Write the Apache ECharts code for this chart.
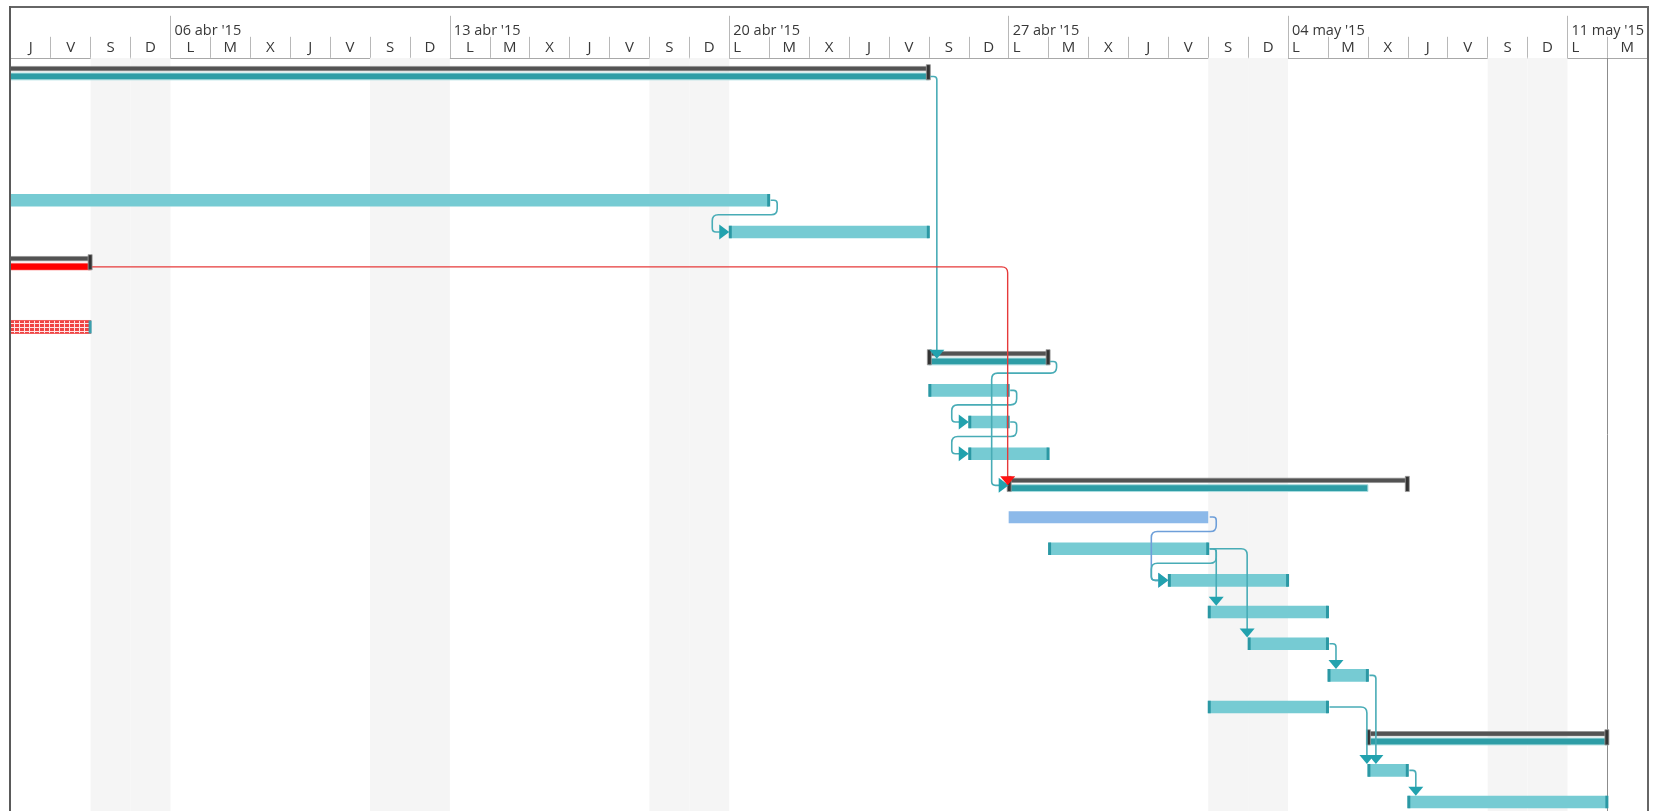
<!DOCTYPE html>
<html>
<head>
<meta charset="utf-8">
<script src="https://cdn.jsdelivr.net/npm/echarts@6/dist/echarts.min.js"></script>
<style>
html,body{margin:0;padding:0;background:#fff;}
#c{width:1655px;height:811px;}
</style>
</head>
<body>
<div id="c"></div>
<script>
// ---------- DATA (day 0 = Thursday 2 Apr 2015) ----------
const dayLetters = ['J','V','S','D','L','M','X','J','V','S','D','L','M','X','J','V','S','D','L','M','X',
                    'J','V','S','D','L','M','X','J','V','S','D','L','M','X','J','V','S','D','L','M'];
const weekLabels = ["06 abr '15", "13 abr '15", "20 abr '15", "27 abr '15", "04 may '15", "11 may '15"];
const weekStartDays = [4, 11, 18, 25, 32, 39];
const weekendDays = [2, 3, 9, 10, 16, 17, 30, 31, 37, 38];
const statusDay = 40;

const taskRows     = [0, 4, 5, 6, 8, 9, 10, 11, 12, 13, 14, 15, 16, 17, 18, 19, 20, 21, 22, 23];
const taskStart    = [-8, -8, 18, -8, -8, 23, 23, 24, 24, 25, 25, 26, 29, 30, 31, 33, 30, 34, 34, 35];
const taskEnd      = [23, 19, 23, 2, 2, 26, 25, 25, 26, 35, 30, 30, 32, 33, 33, 34, 33, 40, 35, 40];
const taskBarEnd   = [23, 19, 23, 2, 2, 26, 25, 25, 26, 34, 30, 30, 32, 33, 33, 34, 33, 40, 35, 40];
const taskKind     = ['summary','task','task','critical','pattern','summary','task','task','task','summary',
                      'blue','task','task','task','task','task','task','summary','task','task'];

const linkFrom = [0, 4, 9, 10, 11, 14, 15, 15, 15, 18, 19, 20, 22, 6];
const linkTo   = [9, 5, 13, 11, 12, 16, 16, 17, 18, 19, 22, 22, 23, 13];
const linkKind = ['teal','teal','teal','teal','teal','blue','teal','teal','teal','teal','teal','teal','teal','red'];

// ---------- LAYOUT / STYLE ----------
const W = 1655, H = 811;
const gridLeft = 10.8, gridRight = 7.7, gridTop = 57.8;
const rowPx = 31.67;
const yMax = (H - gridTop) / rowPx;
const FONT = 'Open Sans';
const leftAlignedL = [18, 25, 32, 39];

const rowToTask = {};
taskRows.forEach((r, i) => { rowToTask[r] = i; });

function makeChecker() {
  const c = document.createElement('canvas');
  c.width = 5; c.height = 4;
  const g = c.getContext('2d');
  g.fillStyle = '#f04444'; g.fillRect(0, 0, 5, 4);
  g.fillStyle = '#ffe4e4'; g.fillRect(4, 0, 1, 4); g.fillRect(0, 3, 5, 1);
  return c;
}
const checker = makeChecker();

function rect(x, y, w, h, style) { return { type: 'rect', shape: { x: x, y: y, width: w, height: h }, style: style }; }

function renderBar(params, api) {
  const i = params.dataIndex;
  const kind = taskKind[i];
  const cy = api.coord([0, taskRows[i] + 0.5])[1];
  const x0 = api.coord([taskStart[i], 0])[0];
  const x1 = api.coord([taskEnd[i], 0])[0];
  const xb = api.coord([taskBarEnd[i], 0])[0];
  const ch = [];
  if (kind === 'summary' || kind === 'critical') {
    ch.push(rect(x0, cy - 7.2, x1 - x0, 4.4, { fill: '#535353', stroke: '#8a8a8a', lineWidth: 0.6 }));
    if (kind === 'summary') {
      ch.push(rect(x0, cy - 0.6, xb - x0, 6.8, { fill: '#2e9da6', stroke: '#a9dcdf', lineWidth: 1 }));
    } else {
      ch.push(rect(x0, cy - 0.4, xb - x0, 6.8, { fill: '#ff0000', stroke: '#ff8080', lineWidth: 0.6 }));
    }
    const capStyle = { fill: '#333333', stroke: '#9a9a9a', lineWidth: 0.8 };
    if (taskStart[i] >= 0) ch.push(rect(x0 - 1.5, cy - 9, 4, 15.2, capStyle));
    ch.push(rect(x1 - 2.5, cy - 9, 4, 15.2, capStyle));
  } else if (kind === 'task') {
    ch.push(rect(x0, cy - 6.3, x1 - x0, 12.6, { fill: '#76cbd3' }));
    const capStyle = { fill: '#2b98a4' };
    if (taskStart[i] >= 0) ch.push(rect(x0 - 0.5, cy - 6.3, 3, 12.6, capStyle));
    ch.push(rect(x1 - 2, cy - 6.3, 3, 12.6, capStyle));
  } else if (kind === 'blue') {
    ch.push(rect(x0, cy - 5.8, x1 - x0, 12, { fill: '#8cb9e9' }));
  } else if (kind === 'pattern') {
    ch.push(rect(x0, cy - 6.5, x1 - x0, 13, { fill: { image: checker, repeat: 'repeat' }, stroke: '#ef4a4a', lineWidth: 0.8 }));
    ch.push(rect(x1 - 2, cy - 6.5, 3, 13, { fill: '#3aa0ae' }));
  }
  return { type: 'group', children: ch };
}

function roundedPath(pts, r) {
  let d = 'M' + pts[0][0] + ',' + pts[0][1];
  for (let k = 1; k < pts.length - 1; k++) {
    const p0 = pts[k - 1], p1 = pts[k], p2 = pts[k + 1];
    const l1 = Math.hypot(p1[0] - p0[0], p1[1] - p0[1]);
    const l2 = Math.hypot(p2[0] - p1[0], p2[1] - p1[1]);
    if (l1 < 0.01 || l2 < 0.01) { d += ' L' + p1[0] + ',' + p1[1]; continue; }
    const rr = Math.min(r, l1 / 2, l2 / 2);
    const ax = p1[0] + (p0[0] - p1[0]) / l1 * rr, ay = p1[1] + (p0[1] - p1[1]) / l1 * rr;
    const bx = p1[0] + (p2[0] - p1[0]) / l2 * rr, by = p1[1] + (p2[1] - p1[1]) / l2 * rr;
    d += ' L' + ax + ',' + ay + ' Q' + p1[0] + ',' + p1[1] + ' ' + bx + ',' + by;
  }
  const pl = pts[pts.length - 1];
  d += ' L' + pl[0] + ',' + pl[1];
  return d;
}

const linkColors = {
  teal: { line: '#48acb6', arrow: '#22a2ae', width: 1.6 },
  blue: { line: '#6e9fd9', arrow: '#6e9fd9', width: 1.6 },
  red:  { line: '#e63a3a', arrow: '#ff1111', width: 1.4 }
};

function exitOffset(kind) { return kind === 'summary' ? 2.8 : (kind === 'critical' ? 3.2 : 0); }
function topOffset(kind) { return kind === 'summary' ? 0 : -6.3; }

function renderLink(params, api) {
  const k = params.dataIndex;
  const a = rowToTask[linkFrom[k]], b = rowToTask[linkTo[k]];
  const col = linkColors[linkKind[k]];
  const pEnd = api.coord([taskEnd[a], 0])[0];
  const pCy = api.coord([0, taskRows[a] + 0.5])[1];
  const pY = pCy + exitOffset(taskKind[a]);
  const sStart = api.coord([taskStart[b], 0])[0];
  const sCy = api.coord([0, taskRows[b] + 0.5])[1];
  let pts, arrow;
  if (taskStart[b] >= taskEnd[a]) {
    const vx = taskStart[b] > taskEnd[a] ? sStart - 1 : pEnd + 8;
    const tipY = sCy + topOffset(taskKind[b]);
    const ah = 9, aw = 7.5;
    pts = [[pEnd + 1.5, pY], [vx, pY], [vx, tipY - ah + 0.5]];
    arrow = [[vx - aw, tipY - ah], [vx + aw, tipY - ah], [vx, tipY]];
  } else {
    const hy = pCy + 14.5;
    const ex = pEnd + 8;
    const lx = sStart - 17;
    const ah = 7.5, aw = 10;
    pts = [[pEnd + 1.5, pY], [ex, pY], [ex, hy], [lx, hy], [lx, sCy], [sStart - aw + 0.5, sCy]];
    arrow = [[sStart - aw, sCy - ah], [sStart - aw, sCy + ah], [sStart, sCy]];
  }
  return {
    type: 'group',
    children: [
      { type: 'path', shape: { pathData: roundedPath(pts, 6) }, style: { fill: null, stroke: col.line, lineWidth: col.width } },
      { type: 'polygon', shape: { points: arrow }, style: { fill: col.arrow } }
    ]
  };
}

function renderWeekend(params, api) {
  const d = weekendDays[params.dataIndex];
  const cs = params.coordSys;
  const xa = api.coord([d, 0])[0], xb = api.coord([d + 1, 0])[0];
  return { type: 'rect', shape: { x: xa, y: cs.y, width: xb - xa, height: cs.height }, style: { fill: '#f5f5f5' } };
}

function renderStatus(params, api) {
  const cs = params.coordSys;
  const x = Math.round(api.coord([statusDay, 0])[0]) + 0.5;
  return { type: 'line', shape: { x1: x, y1: cs.y, x2: x, y2: cs.y + cs.height }, style: { stroke: '#8c8c8c', lineWidth: 1 } };
}

const dayTicks = [];
for (let d = 1; d <= 40; d++) dayTicks.push(d);
const dayCenters = dayLetters.map((_, i) => i + 0.5);

const chart = echarts.init(document.getElementById('c'));
chart.setOption({
  animation: false,
  backgroundColor: '#ffffff',
  grid: { left: gridLeft, right: gridRight, top: gridTop, bottom: 0, containLabel: false },
  xAxis: [
    {
      type: 'value', min: 0, max: 41, position: 'top',
      axisLine: { show: true, onZero: false, lineStyle: { color: '#a8a8a8', width: 1 } },
      axisTick: { show: true, length: 21, customValues: dayTicks, lineStyle: { color: '#b8b8b8', width: 1 } },
      axisLabel: {
        show: true, customValues: dayCenters, margin: 3, fontSize: 15, fontFamily: FONT, color: '#383838',
        formatter: function (v) {
          const i = Math.floor(v);
          if (leftAlignedL.indexOf(i) >= 0) return '{l|' + dayLetters[i] + '}';
          return dayLetters[i];
        },
        rich: { l: { padding: [0, 24, 0, 0], fontSize: 15, fontFamily: FONT, color: '#383838' } }
      },
      splitLine: { show: false }
    },
    {
      type: 'value', min: 0, max: 41, position: 'top',
      axisLine: { show: false, onZero: false },
      axisTick: { show: true, length: 42, customValues: weekStartDays, lineStyle: { color: '#b8b8b8', width: 1 } },
      axisLabel: {
        show: true, customValues: weekStartDays, margin: 19, fontSize: 14.5, fontFamily: FONT, color: '#383838',
        align: 'left', padding: [0, 0, 0, 4],
        formatter: function (v) { return weekLabels[weekStartDays.indexOf(v)]; }
      },
      splitLine: { show: false }
    }
  ],
  yAxis: { type: 'value', min: 0, max: yMax, inverse: true, show: false, axisLine: { onZero: false }, splitLine: { show: false } },
  graphic: [
    { type: 'line', shape: { x1: 9, y1: 7, x2: 1649, y2: 7 }, style: { stroke: '#666666', lineWidth: 2 }, z: 100 },
    { type: 'line', shape: { x1: 10, y1: 6, x2: 10, y2: 811 }, style: { stroke: '#5a5a5a', lineWidth: 2 }, z: 100 },
    { type: 'line', shape: { x1: 1648, y1: 6, x2: 1648, y2: 811 }, style: { stroke: '#666666', lineWidth: 2 }, z: 100 }
  ],
  series: [
    { type: 'custom', name: 'weekends', renderItem: renderWeekend, data: weekendDays.map(d => [d, 0]), z: 1, silent: true, clip: true },
    { type: 'custom', name: 'status', renderItem: renderStatus, data: [[statusDay, 0]], z: 2, silent: true, clip: true },
    { type: 'custom', name: 'bars', renderItem: renderBar, data: taskRows.map((r, i) => [taskStart[i], r + 0.5, taskEnd[i]]), encode: { x: [0, 2], y: 1 }, z: 3, silent: true, clip: true },
    { type: 'custom', name: 'links', renderItem: renderLink, data: linkFrom.map((f, k) => [taskEnd[rowToTask[f]], f + 0.5]), z: 4, silent: true, clip: true }
  ]
});
</script>
</body>
</html>
